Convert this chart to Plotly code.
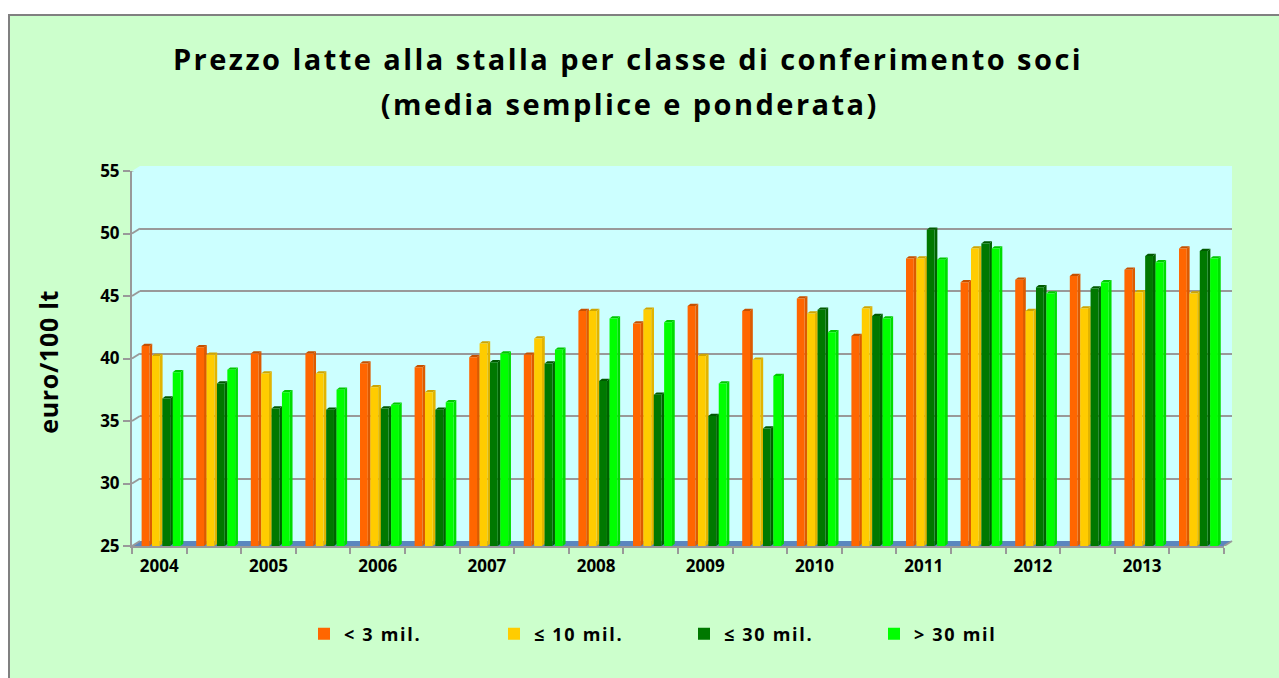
import plotly.graph_objects as go

W, H = 1279, 678
years = ["2004", "2005", "2006", "2007", "2008", "2009", "2010", "2011", "2012", "2013"]
categories = [f"{y}{s}" for y in years for s in ("a", "b")]
tick_labels = [t for y in years for t in (y, "")]
names = ["< 3 mil.", "≤ 10 mil.", "≤ 30 mil.", "> 30 mil"]
title_line1 = "Prezzo latte alla stalla per classe di conferimento soci"
title_line2 = "(media semplice e ponderata)"
y_title = "euro/100 lt"

v_under3 = [41.0, 40.9, 40.4, 40.4, 39.6, 39.3, 40.1, 40.3, 43.8, 42.8,
            44.2, 43.8, 44.8, 41.8, 48.0, 46.1, 46.3, 46.6, 47.1, 48.8]
v_under10 = [40.2, 40.3, 38.8, 38.8, 37.7, 37.3, 41.2, 41.6, 43.8, 43.9,
             40.2, 39.9, 43.6, 44.0, 48.0, 48.8, 43.8, 44.0, 45.3, 45.2]
v_under30 = [36.8, 38.0, 36.0, 35.9, 36.0, 35.9, 39.7, 39.6, 38.2, 37.1,
             35.4, 34.4, 43.9, 43.4, 50.3, 49.2, 45.7, 45.6, 48.2, 48.6]
v_over30 = [38.9, 39.1, 37.3, 37.5, 36.3, 36.5, 40.4, 40.7, 43.2, 42.9,
            38.0, 38.6, 42.1, 43.2, 47.9, 48.8, 45.2, 46.1, 47.7, 48.0]
series = [v_under3, v_under10, v_under30, v_over30]

front = ["#FF6600", "#FFCC00", "#007800", "#00FF00"]
side = ["#DD5A00", "#E2B400", "#006200", "#00DD00"]
top = ["#C65000", "#CFA500", "#005A00", "#00C800"]

Y_MIN, Y_MAX = 25, 55
FONT = "Open Sans"


def px(x):
    return x / W


def py(y):
    return 1 - y / H


BAR_W = 0.143
PITCH = 0.19
FIRST = -0.324
DX = 2.8 / 54.6
DY = 2.2 / 12.5

fig = go.Figure()
fig.add_trace(go.Scatter(x=[], y=[], xaxis="x", yaxis="y", showlegend=False, hoverinfo="skip"))
for i, vals in enumerate(series):
    fig.add_trace(go.Bar(x=categories, y=vals, name=names[i], xaxis="x2", yaxis="y2",
                         offset=FIRST + i * PITCH, width=BAR_W,
                         marker=dict(color=front[i], line=dict(width=0))))

shapes = [
    dict(type="rect", xref="paper", yref="paper", x0=px(9), x1=px(1300), y0=py(15), y1=py(700),
         fillcolor="#CCFFCC", line=dict(color="#808080", width=2), layer="below"),
    dict(type="path", xref="paper", yref="paper", layer="below", fillcolor="#CCFFFF", line=dict(width=0),
         path=f"M {px(132)} {py(171)} L {px(140)} {py(166)} L {px(1232)} {py(166)} L {px(1232)} {py(541)} L {px(132)} {py(546)} Z"),
    dict(type="path", xref="paper", yref="paper", layer="below", fillcolor="#5B86BE", line=dict(width=0),
         path=f"M {px(132)} {py(546)} L {px(140)} {py(541)} L {px(1232)} {py(541)} L {px(1224)} {py(546)} Z"),
]
for v in range(Y_MIN, Y_MAX + 1, 5):
    shapes.append(dict(type="line", xref="x2 domain", yref="y2", x0=0, y0=v, x1=8 / 1092, y1=v + 5 / 12.5,
                       line=dict(color="#999999", width=2), layer="below"))
shapes.append(dict(type="line", xref="x2 domain", yref="y2", x0=1, y0=Y_MIN, x1=1 + 8 / 1092, y1=Y_MIN + 5 / 12.5,
                   line=dict(color="#999999", width=2), layer="below"))

for i, vals in enumerate(series):
    for c, v in enumerate(vals):
        xl = c + FIRST + i * PITCH
        xr = xl + BAR_W
        shapes.append(dict(type="path", xref="x2", yref="y2", layer="below", fillcolor=side[i], line=dict(width=0),
                           path=f"M {xr} {Y_MIN} L {xr + DX} {Y_MIN + DY} L {xr + DX} {v + DY} L {xr} {v} Z"))
        shapes.append(dict(type="path", xref="x2", yref="y2", layer="below", fillcolor=top[i], line=dict(width=0),
                           path=f"M {xl} {v} L {xl + DX} {v + DY} L {xr + DX} {v + DY} L {xr} {v} Z"))

tickfont = dict(family=FONT, size=17, color="black", weight="bold")
title_font = dict(family=FONT, size=29, color="black", weight="bold")
fig.update_layout(
    width=W, height=H, autosize=False,
    margin=dict(l=0, r=0, t=0, b=0, pad=0, autoexpand=False),
    paper_bgcolor="white", plot_bgcolor="rgba(0,0,0,0)",
    barmode="overlay", shapes=shapes,
    font=dict(family=FONT, color="black"),
    title=dict(text=title_line1, x=px(628), xanchor="center", y=py(60), yanchor="middle", font=title_font),
    annotations=[
        dict(text=title_line2, xref="paper", yref="paper", x=px(629), y=py(104),
             xanchor="center", yanchor="middle", showarrow=False, font=title_font),
        dict(text=y_title, xref="paper", yref="paper", x=px(48), y=py(362), textangle=-90,
             xanchor="center", yanchor="middle", showarrow=False,
             font=dict(family=FONT, size=25, color="black", weight="bold")),
    ],
    xaxis=dict(domain=[px(140), px(1232)], range=[0, 20], visible=False, anchor="y"),
    yaxis=dict(domain=[py(541), py(166)], range=[Y_MIN, Y_MAX], dtick=5, anchor="x",
               showgrid=True, gridcolor="#999999", gridwidth=2, showticklabels=False,
               zeroline=False, showline=False, ticks=""),
    xaxis2=dict(domain=[px(132), px(1224)], anchor="y2", type="category", categoryorder="array",
                categoryarray=categories, tickmode="array", tickvals=categories, ticktext=tick_labels,
                tickson="boundaries", ticks="outside", ticklen=6, tickwidth=2, tickcolor="#999999",
                showline=True, linecolor="#999999", linewidth=2, showgrid=False, tickangle=0,
                tickfont=tickfont, ticklabelstandoff=4),
    yaxis2=dict(domain=[py(546), py(171)], range=[Y_MIN, Y_MAX], dtick=5, anchor="x2",
                showgrid=False, zeroline=False, ticks="outside", ticklen=7, tickwidth=2, tickcolor="#999999",
                showline=True, linecolor="#999999", linewidth=2, tickfont=tickfont),
    legend=dict(orientation="h", x=px(304), xanchor="left", y=py(634), yanchor="middle",
                entrywidth=145, entrywidthmode="pixels", traceorder="normal",
                bgcolor="rgba(0,0,0,0)", font=dict(family=FONT, size=18, color="black", weight="bold")),
    showlegend=True,
)
spacing_js = """
document.body.style.margin='0';document.body.style.overflow='hidden';
function applySpacing(){
  document.querySelectorAll('.gtitle, .annotation[data-index="0"] .annotation-text').forEach(function(e){e.style.letterSpacing='2.45px';});
  document.querySelectorAll('.annotation[data-index="1"] .annotation-text').forEach(function(e){e.style.letterSpacing='0.7px';});
  document.querySelectorAll('.legendtext').forEach(function(e){e.style.letterSpacing='1.7px';});
}
applySpacing();setTimeout(applySpacing,50);setTimeout(applySpacing,300);
"""
fig.write_html("out.html", post_script=spacing_js, config={"displayModeBar": False})
